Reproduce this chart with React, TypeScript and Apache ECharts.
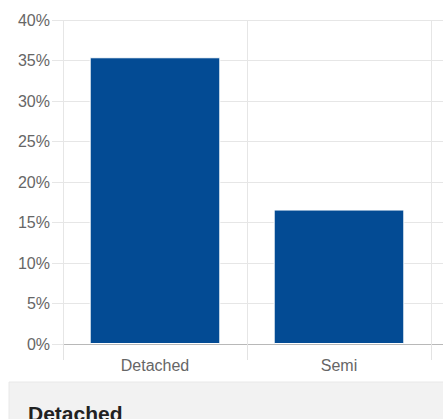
import React, { useEffect, useRef } from "react";
import * as echarts from "echarts";

const categories = ["Detached", "Semi", ""];
const shares = [35.4, 16.6, null];
const yTicks = { min: 0, max: 40, interval: 5 };
const panelTitle = "Detached";

const FONT = "'Liberation Sans', Arial, Helvetica, sans-serif";

export default function App() {
  const ref = useRef<HTMLDivElement>(null);
  useEffect(() => {
    if (!ref.current) return;
    const chart = echarts.init(ref.current, undefined, { renderer: "svg" });
    chart.setOption({
      animation: false,
      grid: { left: 63, top: 20, width: 552, height: 324, containLabel: false },
      xAxis: {
        type: "category",
        data: categories,
        axisLine: { show: true, lineStyle: { color: "#b8b8b8", width: 1 } },
        axisTick: { show: true, length: 16, lineStyle: { color: "#e3e3e3" } },
        splitLine: { show: true, lineStyle: { color: "#e6e6e6" } },
        axisLabel: { fontSize: 16, color: "#666", margin: 13, fontFamily: FONT },
      },
      yAxis: {
        type: "value",
        min: yTicks.min,
        max: yTicks.max,
        interval: yTicks.interval,
        axisLine: { show: false },
        axisTick: { show: true, length: 11, lineStyle: { color: "#e6e6e6" } },
        splitLine: { show: true, lineStyle: { color: "#e6e6e6" } },
        axisLabel: { formatter: "{value}%", fontSize: 16, color: "#666", margin: 13, fontFamily: FONT },
      },
      series: [
        {
          type: "bar",
          data: shares,
          barCategoryGap: "29%",
          itemStyle: { color: "#034b94", borderColor: "#ffffff", borderWidth: 1 },
        },
      ],
      graphic: [
        {
          type: "rect",
          shape: { x: 9, y: 382, width: 700, height: 40 },
          style: { fill: "#f2f2f2", stroke: "#e8e8e8", lineWidth: 1 },
          z: 10,
        },
        {
          type: "text",
          x: 28,
          y: 403,
          style: {
            text: panelTitle,
            fill: "#222",
            font: `bold 21px ${FONT}`,
            textVerticalAlign: "top",
          },
          z: 11,
        },
      ],
    });
    return () => chart.dispose();
  }, []);
  return (
    <div style={{ position: "fixed", left: 0, top: 0, width: 443, height: 419, overflow: "hidden", background: "#fff" }}>
      <div ref={ref} style={{ width: 640, height: 419 }} />
    </div>
  );
}
